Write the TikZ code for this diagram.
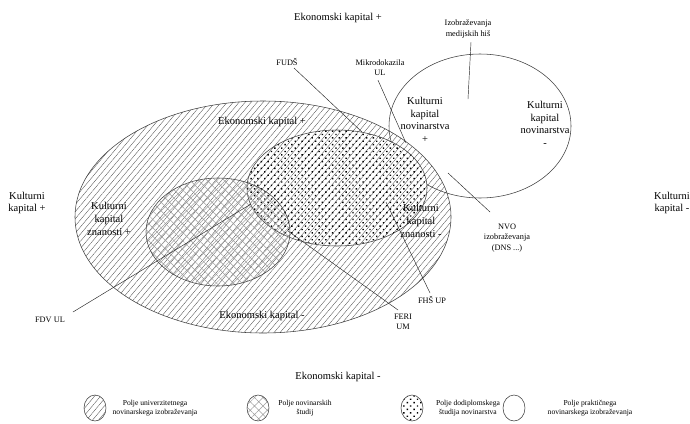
\documentclass[tikz,border=0pt]{standalone}
\usepackage{fontspec}
\setmainfont{Liberation Serif}
\usetikzlibrary{patterns.meta}
\begin{document}
\begin{tikzpicture}[x=1pt,y=-1pt,
  lbl/.style={font=\fontsize{10.5}{12.6}\selectfont, align=center, inner sep=0pt},
  sml/.style={font=\fontsize{8.3}{10.2}\selectfont, align=center, inner sep=0pt},
  leg/.style={font=\fontsize{7.6}{9.6}\selectfont, align=center, inner sep=0pt},
  conn/.style={draw=black!85, line width=0.45pt},
  outl/.style={draw=black!75, line width=0.55pt},
  hatchp/.style={pattern={Lines[angle=50,distance=4.6pt,line width=0.3pt]}, pattern color=black!75},
  crossp/.style={pattern={Hatch[angle=45,distance=6pt,line width=0.5pt]}, pattern color=black!38},
  dotp/.style={pattern={Dots[angle=45,distance=4.8pt,radius=1pt]}, pattern color=black}
]
\useasboundingbox (0,0) rectangle (690,423);
\fill[white] (0,0) rectangle (690,423);

% fields
\draw[outl, preaction={fill=white}, hatchp] (263,217) ellipse [x radius=188pt, y radius=116pt];
\draw[outl] (480,126) ellipse [x radius=91pt, y radius=72pt];
\draw[outl, preaction={fill=white}, preaction={hatchp}, dotp] (337,188) ellipse [x radius=90pt, y radius=58pt];
\draw[outl, crossp] (218,232) ellipse [x radius=72pt, y radius=54pt];

% axis labels
\node[lbl] (ekTop) at (338,18) {Ekonomski kapital +};
\node[lbl] (ekBot) at (338,377) {Ekonomski kapital -};
\node[lbl] (kulL) at (27,203) {Kulturni\\kapital +};
\node[lbl] (kulR) at (672,203) {Kulturni\\kapital -};

% inner labels
\node[lbl] (ekIn) at (262,122) {Ekonomski kapital +};
\node[lbl] (ekInB) at (262,316) {Ekonomski kapital -};
\node[lbl] (kzp) at (109,219) {Kulturni\\kapital\\znanosti +};
\node[lbl] (kzm) at (421,221) {Kulturni\\kapital\\znanosti -};
\node[lbl] (knp) at (425,120) {Kulturni\\kapital\\novinarstva\\+};
\node[lbl] (knm) at (545,124) {Kulturni\\kapital\\novinarstva\\-};

% institution labels
\node[sml] (izo) at (468,29) {Izobraževanja\\medijskih hiš};
\node[sml] (fuds) at (287,62) {FUDŠ};
\node[sml] (mikro) at (380,68) {Mikrodokazila\\UL};
\node[sml] (nvo) at (507,238) {NVO\\izobraževanja\\(DNS ...)};
\node[sml] (fhs) at (432,300) {FHŠ UP};
\node[sml] (feri) at (403,322) {FERI\\UM};
\node[sml] (fdv) at (50,320) {FDV UL};

% connector ends
\coordinate (izoE) at (468,99);
\coordinate (fudsS) at (294,68);
\coordinate (fudsE) at (362,132);
\coordinate (mikroE) at (406,143);
\coordinate (nvoS) at (448,173);
\coordinate (nvoE) at (490,212);
\coordinate (fhsS) at (386,202);
\coordinate (fhsE) at (430,293);
\coordinate (feriS) at (288,231);
\coordinate (feriE) at (398,310);
\coordinate (fdvS) at (73,312);
\coordinate (fdvE) at (251,204);

\draw[conn] (izo.south) ++(3,4) -- (izoE);
\draw[conn] (fudsS) -- (fudsE);
\draw[conn] (mikro.south) ++(-2,4) -- (mikroE);
\draw[conn] (nvoS) -- (nvoE);
\draw[conn] (fhsS) -- (fhsE);
\draw[conn] (feriS) -- (feriE);
\draw[conn] (fdvS) -- (fdvE);

% legend
\draw[outl, preaction={fill=white}, hatchp] (95,408) ellipse [x radius=11pt, y radius=13pt];
\node[leg] (leg1) at (155,408) {Polje univerzitetnega\\novinarskega izobraževanja};
\draw[outl, crossp] (258,408) ellipse [x radius=11pt, y radius=13pt];
\node[leg] (leg2) at (305,408) {Polje novinarskih\\študij};
\draw[outl, dotp] (412,408) ellipse [x radius=11pt, y radius=13pt];
\node[leg] (leg3) at (468,408) {Polje dodiplomskega\\študija novinarstva};
\draw[outl] (514,408) ellipse [x radius=11pt, y radius=13pt];
\node[leg] (leg4) at (590,408) {Polje praktičnega\\novinarskega izobraževanja};
\end{tikzpicture}
\end{document}
